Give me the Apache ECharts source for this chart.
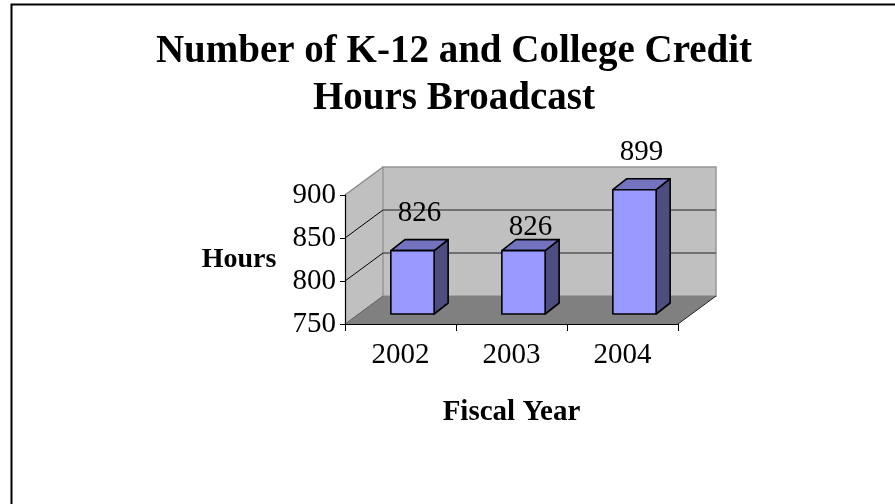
<!DOCTYPE html>
<html>
<head>
<meta charset="utf-8">
<script src="https://cdn.jsdelivr.net/npm/echarts@6/dist/echarts.min.js"></script>
<style>
html,body{margin:0;padding:0;background:#fff;}
#chart{width:895px;height:504px;}
</style>
</head>
<body>
<div id="chart"></div>
<script>
// ---- data ----
const categories = ['2002', '2003', '2004'];
const hours = [826, 826, 899];
const yTicks = [750, 800, 850, 900];
const titleLines = ['Number of K-12 and College Credit', 'Hours Broadcast'];
const xName = 'Fiscal Year';
const yName = 'Hours';

// ---- style ----
const FONT = "'Liberation Serif', 'Times New Roman', serif";
const DEPTH = [38, -28];          // full depth of the 3D box (px)
const BAR_FRONT = [12, -10];      // bar front plane offset from front
const BAR_DEPTH = [14, -11];      // bar thickness in depth
const BAR_W = 0.39;               // bar width as fraction of category
const BAR_SCALE = 0.97;           // slight perspective shrink of bars
const LABEL_NUDGE = {1: 14};      // excel moved one label downward
const yMin = yTicks[0], yMax = yTicks[yTicks.length - 1];

const chart = echarts.init(document.getElementById('chart'));

function renderWalls(params, api) {
  const cs = params.coordSys;
  const L = cs.x, R = cs.x + cs.width;
  const y0 = api.coord([0, yMin])[1];
  const y1 = api.coord([0, yMax])[1];
  const dx = DEPTH[0], dy = DEPTH[1];
  const ch = [];
  // side wall
  ch.push({type: 'polygon', shape: {points: [[L, y1], [L + dx, y1 + dy], [L + dx, y0 + dy], [L, y0]]},
    style: {fill: '#c0c0c0', stroke: null}});
  // back wall
  ch.push({type: 'polygon', shape: {points: [[L + dx, y1 + dy], [R + dx, y1 + dy], [R + dx, y0 + dy], [L + dx, y0 + dy]]},
    style: {fill: '#c0c0c0', stroke: '#969696', lineWidth: 1.5}});
  // floor
  ch.push({type: 'polygon', shape: {points: [[L, y0], [R, y0], [R + dx, y0 + dy], [L + dx, y0 + dy]]},
    style: {fill: '#808080', stroke: null}});
  // back-wall gridlines & side-wall gridlines
  yTicks.forEach(function (v) {
    const y = api.coord([0, v])[1];
    if (v !== yMin && v !== yMax) {
      ch.push({type: 'line', shape: {x1: L + dx, y1: y + dy, x2: R + dx, y2: y + dy},
        style: {stroke: '#707070', lineWidth: 1.8}});
      ch.push({type: 'line', shape: {x1: L, y1: y, x2: L + dx, y2: y + dy},
        style: {stroke: '#000', lineWidth: 1}});
    }
  });
  // side wall top edge
  ch.push({type: 'line', shape: {x1: L, y1: y1, x2: L + dx, y2: y1 + dy}, style: {stroke: '#8a8a8a', lineWidth: 1.5}});
  // floor right edge
  ch.push({type: 'line', shape: {x1: R, y1: y0, x2: R + dx, y2: y0 + dy}, style: {stroke: '#222', lineWidth: 1}});
  ch.push({type: 'line', shape: {x1: L, y1: y0, x2: L + dx, y2: y0 + dy}, style: {stroke: '#606060', lineWidth: 1}});
  return {type: 'group', children: ch};
}

function renderBar(params, api) {
  const i = api.value(0);
  const v = api.value(1);
  const top = api.coord([i, v]);
  const base = api.coord([i, yMin]);
  const w = api.size([1, 0])[0] * BAR_W;
  const h = (base[1] - top[1]) * BAR_SCALE;
  const x0 = top[0] - w / 2 + BAR_FRONT[0];
  const x1 = x0 + w;
  const yb = base[1] + BAR_FRONT[1];
  const yt = yb - h;
  const dx = BAR_DEPTH[0], dy = BAR_DEPTH[1];
  const stroke = {stroke: '#000', lineWidth: 1.6, lineJoin: 'round'};
  const nudge = LABEL_NUDGE[params.dataIndex] || 0;
  return {
    type: 'group',
    children: [
      {type: 'polygon', shape: {points: [[x1, yt], [x1 + dx, yt + dy], [x1 + dx, yb + dy], [x1, yb]]},
        style: Object.assign({fill: '#4d4d80'}, stroke)},
      {type: 'polygon', shape: {points: [[x0, yt], [x1, yt], [x1 + dx, yt + dy], [x0 + dx, yt + dy]]},
        style: Object.assign({fill: '#7373c0'}, stroke)},
      {type: 'rect', shape: {x: x0, y: yt, width: w, height: h},
        style: Object.assign({fill: '#9999ff'}, stroke)},
      {type: 'text', x: (x0 + x1) / 2 + dx / 2, y: yt + dy - 12 + nudge,
        style: {text: String(v), fill: '#000', font: '29px ' + FONT, align: 'center', verticalAlign: 'bottom'}}
    ]
  };
}

const option = {
  backgroundColor: '#fff',
  animation: false,
  graphic: [
    {type: 'rect', shape: {x: 11.5, y: 4.5, width: 900, height: 520},
      style: {fill: null, stroke: '#000', lineWidth: 2}, z: 100},
    {type: 'text', x: 454, y: 28,
      style: {text: titleLines.join('\n'), font: 'bold 39px ' + FONT, fill: '#000',
        align: 'center', verticalAlign: 'top', lineHeight: 47}}
  ],
  grid: {left: 345, top: 195, width: 333, height: 129, containLabel: false},
  xAxis: {
    type: 'category',
    data: categories,
    z: 10,
    boundaryGap: true,
    name: xName,
    nameLocation: 'middle',
    nameGap: 89,
    nameTextStyle: {fontFamily: FONT, fontWeight: 'bold', fontSize: 29, color: '#000',
      align: 'center', verticalAlign: 'middle'},
    axisLine: {show: true, lineStyle: {color: '#000', width: 1.2}},
    axisTick: {show: true, alignWithLabel: false, length: 7, lineStyle: {color: '#000', width: 1}},
    axisLabel: {fontFamily: FONT, fontSize: 29, color: '#000', margin: 17},
    splitLine: {show: false}
  },
  yAxis: {
    type: 'value',
    min: yMin,
    max: yMax,
    interval: 50,
    z: 10,
    name: yName,
    nameLocation: 'middle',
    nameRotate: 0,
    nameGap: 106,
    nameTextStyle: {fontFamily: FONT, fontWeight: 'bold', fontSize: 28, color: '#000',
      align: 'center', verticalAlign: 'middle'},
    axisLine: {show: true, lineStyle: {color: '#000', width: 1.2}},
    axisTick: {show: true, length: 5, lineStyle: {color: '#000', width: 1}},
    axisLabel: {fontFamily: FONT, fontSize: 29, color: '#000', margin: 9},
    splitLine: {show: false}
  },
  series: [
    {type: 'custom', name: 'walls', renderItem: renderWalls, data: [[0, yMin]], silent: true, z: 1},
    {type: 'custom', name: 'Hours', renderItem: renderBar, z: 2,
      data: hours.map(function (v, i) { return [i, v]; })}
  ]
};
chart.setOption(option);
</script>
</body>
</html>
